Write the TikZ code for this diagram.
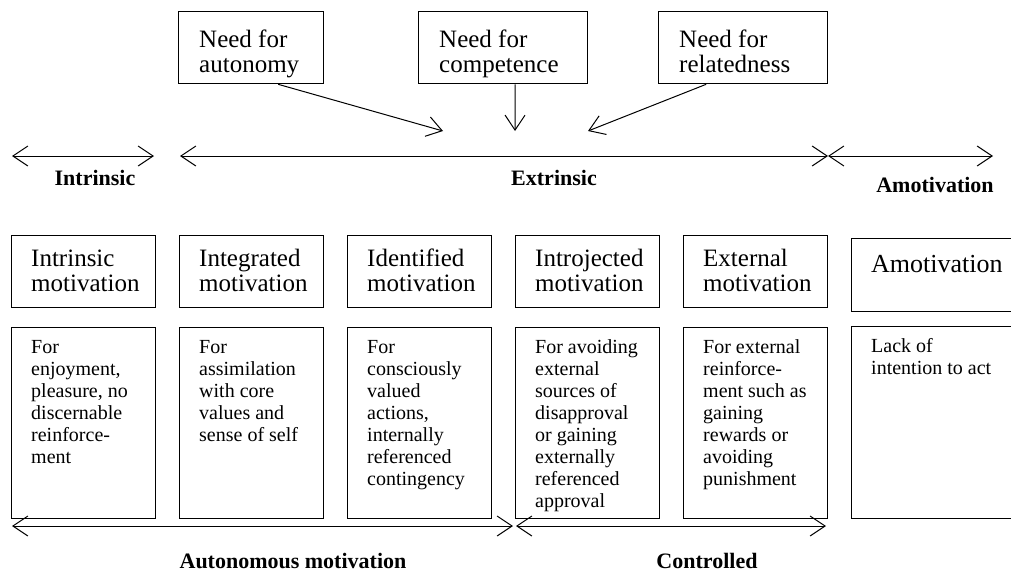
\documentclass[tikz,border=0pt]{standalone}
\usepackage{fontspec}
\setmainfont{Liberation Serif}
\usetikzlibrary{arrows.meta, positioning}

\tikzset{
  frame/.style={draw, line width=1.3pt, inner sep=0pt, anchor=north west},
  boxtext/.style={anchor=north west, align=left, inner sep=0pt},
  tip/.style={line width=1pt, {Straight Barb[length=15pt,width=20pt]}-{Straight Barb[length=15pt,width=20pt]}},
  pull/.style={line width=1pt, -{Straight Barb[length=15pt,width=20pt]}},
  heading/.style={font=\fontsize{22}{24}\selectfont\bfseries, anchor=base}
}

\begin{document}
\begin{tikzpicture}[x=1pt, y=-1pt]
	\clip (0,0) rectangle (1011,571);
	% needs
	\node[frame, minimum width=145pt, minimum height=72pt] (na) at (178,11) {};
	\node[frame, minimum width=169pt, minimum height=72pt] (nc) at (418,11) {};
	\node[frame, minimum width=169pt, minimum height=72pt] (nr) at (658,11) {};
	\foreach \b/\t in {na/{Need for\\autonomy}, nc/{Need for\\competence}, nr/{Need for\\relatedness}}
		\node[boxtext, font=\fontsize{25}{25}\selectfont] (\b txt) at ([shift={(21,19)}]\b.north west) {\strut\t};
	\coordinate (ea) at (443,131);
	\coordinate (ec) at (515,131);
	\coordinate (er) at (588,131);
	\draw[pull] ([xshift=27pt]na.south) -- (ea);
	\draw[pull] ([xshift=12pt]nc.south) -- (ec);
	\draw[pull] ([xshift=-37pt]nr.south) -- (er);
	% continuum
	\coordinate (i1) at (12,156);
	\coordinate (i2) at (154,156);
	\coordinate (x1) at (180,156);
	\coordinate (x2) at (828,156);
	\coordinate (m2) at (993,156);
	\draw[tip] (i1) -- (i2);
	\draw[tip] (x1) -- (x2);
	\draw[tip] (x2) -- (m2);
	\node[heading] (lint) at (95,185) {Intrinsic};
	\node[heading] (lext) at (554,185) {Extrinsic};
	\node[heading] (lamo) at (935,192) {Amotivation};
	% regulation types
	\foreach \n/\x/\ttl/\dsc in {
		1/11/{Intrinsic\\motivation}/{For\\enjoyment,\\pleasure, no\\discernable\\reinforce-\\ment},
		2/179/{Integrated\\motivation}/{For\\assimilation\\with core\\values and\\sense of self},
		3/347/{Identified\\motivation}/{For\\consciously\\valued\\actions,\\internally\\referenced\\contingency},
		4/515/{Introjected\\motivation}/{For avoiding\\external\\sources of\\disapproval\\or gaining\\externally\\referenced\\approval},
		5/683/{External\\motivation}/{For external\\reinforce-\\ment such as\\gaining\\rewards or\\avoiding\\punishment}}
	{
		\node[frame, minimum width=144pt, minimum height=72pt] (t\n) at (\x,235) {};
		\node[boxtext, font=\fontsize{25}{25}\selectfont] (t\n txt) at ([shift={(20,14)}]t\n.north west) {\strut\ttl};
		\node[frame, minimum width=144pt, minimum height=191pt] (d\n) at (\x,327) {};
		\node[boxtext, font=\fontsize{20}{22}\selectfont] (d\n txt) at ([shift={(20,11)}]d\n.north west) {\strut\dsc};
	}
	\node[frame, minimum width=180pt, minimum height=73pt] (t6) at (851,238) {};
	\node[boxtext, font=\fontsize{26}{26}\selectfont] (t6txt) at ([shift={(20,15.8)}]t6.north west) {\strut Amotivation};
	\node[frame, minimum width=180pt, minimum height=192pt] (d6) at (851,326) {};
	\node[boxtext, font=\fontsize{20}{22}\selectfont] (d6txt) at ([shift={(20,10.6)}]d6.north west) {\strut Lack of\\intention to act};
	% autonomous vs controlled
	\coordinate (a1) at (12,526);
	\coordinate (a2) at (513,526);
	\coordinate (c1) at (516,526);
	\coordinate (c2) at (826,526);
	\draw[tip] (a1) -- (a2);
	\draw[tip] (c1) -- (c2);
	\node[heading] (laut) at (293,568) {Autonomous motivation};
	\node[heading] (lcon) at (707,568) {Controlled};
\end{tikzpicture}
\end{document}
